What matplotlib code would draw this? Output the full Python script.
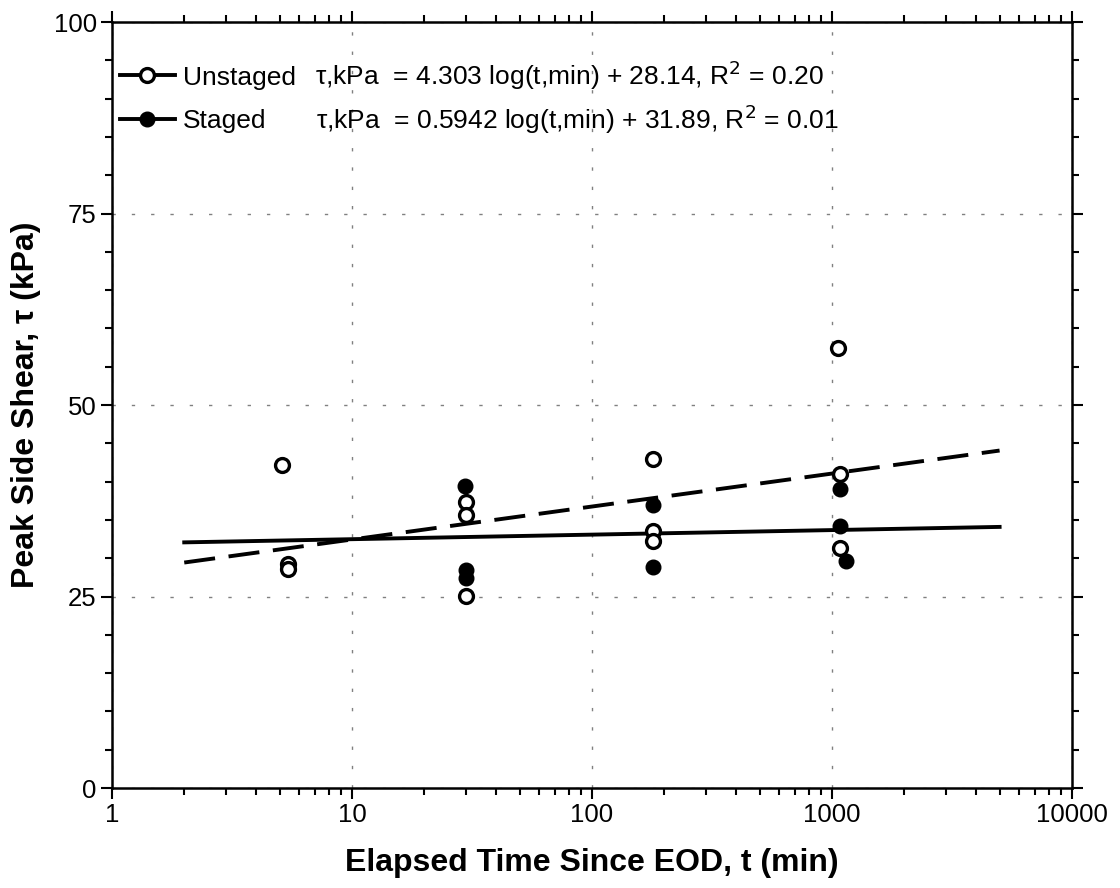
import numpy as np
import matplotlib.pyplot as plt
from matplotlib.lines import Line2D
from matplotlib.ticker import MultipleLocator, LogLocator, NullFormatter

plt.rcParams['font.family'] = ['Liberation Sans', 'DejaVu Sans']

# Datos
t_unstaged = [5.1, 5.4, 5.4, 30, 30, 30, 180, 180, 180, 1060, 1080, 1080]
tau_unstaged = [42.2, 29.2, 28.6, 37.3, 35.7, 25.1, 43.0, 33.5, 32.3, 57.4, 41.0, 31.3]
t_staged = [29.6, 30, 30, 180, 180, 1080, 1080, 1150]
tau_staged = [39.4, 28.4, 27.4, 37.0, 28.9, 39.1, 34.2, 29.7]

# Ajustes tau = a log10(t) + b
a_un, b_un, r2_un = 4.303, 28.14, 0.20
a_st, b_st, r2_st = 0.5942, 31.89, 0.01
t_fit = np.array([2, 5000])

fig = plt.figure(figsize=(11.2, 8.88), dpi=100)
ax = fig.add_axes([0.1, 0.1126, 0.857, 0.8626])

ax.plot(t_fit, a_un * np.log10(t_fit) + b_un, color='black', lw=2.8,
        dashes=(8, 3.5))
ax.plot(t_fit, a_st * np.log10(t_fit) + b_st, color='black', lw=2.8)
ax.plot(t_unstaged, tau_unstaged, 'o', ms=10, mfc='white', mec='black',
        mew=2.4, ls='none', zorder=4)
ax.plot(t_staged, tau_staged, 'o', ms=10.5, mfc='black', mec='black',
        mew=1, ls='none', zorder=3)

ax.set_xscale('log')
ax.set_xlim(1, 10000)
ax.set_ylim(0, 100)
ax.xaxis.set_minor_locator(LogLocator(base=10, subs=np.arange(2, 10), numticks=20))
ax.xaxis.set_minor_formatter(NullFormatter())
ax.set_xticks([1, 10, 100, 1000, 10000])
ax.set_xticklabels(['1', '10', '100', '1000', '10000'])
ax.yaxis.set_major_locator(MultipleLocator(25))
ax.yaxis.set_minor_locator(MultipleLocator(5))

ax.tick_params(which='both', direction='out', top=True, right=True,
               labelsize=18.5, width=1.5, pad=3)
ax.tick_params(which='major', length=8)
ax.tick_params(which='minor', length=5)
for s in ax.spines.values():
    s.set_linewidth(1.8)

ax.grid(True, which='major', color='gray', ls=(0, (2.4, 11.5)), lw=1)

ax.set_xlabel('Elapsed Time Since EOD, t (min)', fontsize=23,
              fontweight='bold', labelpad=15)
ax.set_ylabel('Peak Side Shear, τ (kPa)', fontsize=23, fontweight='bold',
              labelpad=9)

h1 = Line2D([], [], color='black', lw=2.8, marker='o', ms=10,
            mfc='white', mec='black', mew=2.4)
h2 = Line2D([], [], color='black', lw=2.8, marker='o', ms=10.5,
            mfc='black', mec='black')
ax.legend([h1, h2], ['Unstaged', 'Staged'], loc='upper left',
          bbox_to_anchor=(0.008, 0.943), frameon=False, fontsize=19,
          handlelength=2.1, handletextpad=0.3, labelspacing=0.75,
          borderpad=0, borderaxespad=0)

ax.text(0.211, 0.918,
        'τ,kPa  = %.3f log(t,min) + %.2f, R$^2$ = %.2f' % (a_un, b_un, r2_un),
        transform=ax.transAxes, fontsize=19, va='baseline')
ax.text(0.213, 0.860,
        'τ,kPa  = %.4f log(t,min) + %.2f, R$^2$ = %.2f' % (a_st, b_st, r2_st),
        transform=ax.transAxes, fontsize=19, va='baseline')

fig.savefig('out.png', dpi=100)
